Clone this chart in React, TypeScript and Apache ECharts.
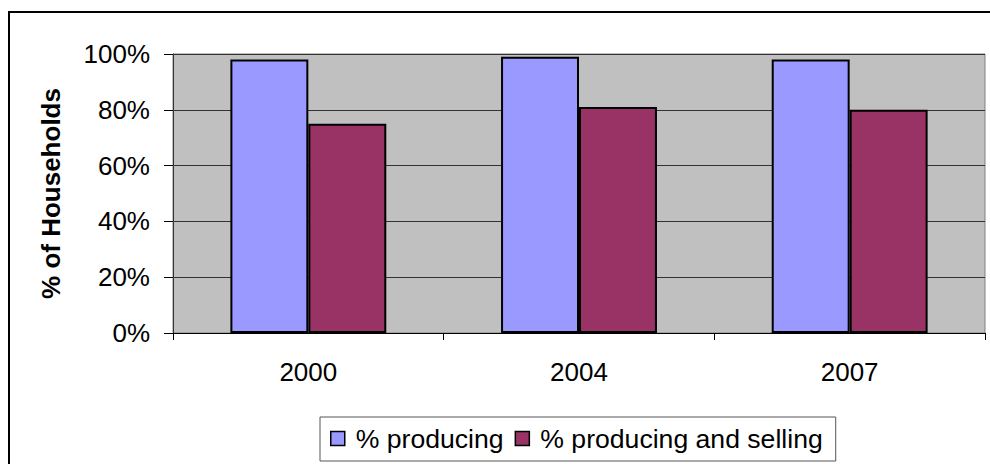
import React, { useEffect, useRef } from "react";
import * as echarts from "echarts";

const categories = ["2000", "2004", "2007"];
const producing = [0.98, 0.99, 0.98];
const producingSelling = [0.75, 0.81, 0.8];
const seriesNames = ["% producing", "% producing and selling"];

const FONT = "'Liberation Sans', Arial, sans-serif";

export default function App() {
  const ref = useRef<HTMLDivElement>(null);
  useEffect(() => {
    if (!ref.current) return;
    const chart = echarts.init(ref.current, null, { renderer: "svg" });
    chart.setOption({
      animation: false,
      backgroundColor: "#ffffff",
      textStyle: { fontFamily: FONT, color: "#000" },
      graphic: [
        {
          type: "rect",
          shape: { x: 9, y: 12, width: 1000, height: 480 },
          style: { fill: "none", stroke: "#000", lineWidth: 2 },
          silent: true,
        },
      ],
      grid: {
        left: 173,
        top: 54,
        width: 812,
        height: 279,
        show: true,
        backgroundColor: "#C0C0C0",
        borderColor: "#808080",
        borderWidth: 1,
      },
      legend: {
        data: seriesNames,
        left: 320,
        top: 417,
        orient: "horizontal",
        icon: "rect",
        itemWidth: 14,
        itemHeight: 14,
        itemGap: 11,
        padding: [8, 13, 9, 10],
        borderColor: "#555",
        borderWidth: 1,
        itemStyle: { borderColor: "#000", borderWidth: 1.5 },
        textStyle: { fontSize: 26.6, fontFamily: FONT, color: "#000", padding: [0, 0, 0, 6] },
      },
      xAxis: {
        type: "category",
        data: categories,
        axisLine: { show: true, lineStyle: { color: "#000", width: 1 } },
        axisTick: { show: true, length: 7, lineStyle: { color: "#000" } },
        axisLabel: { fontSize: 26, fontFamily: FONT, color: "#000", margin: 26 },
        splitLine: { show: false },
      },
      yAxis: {
        type: "value",
        min: 0,
        max: 1,
        interval: 0.2,
        name: "% of Households",
        nameLocation: "middle",
        nameRotate: 90,
        nameGap: 109,
        nameTextStyle: { fontSize: 26, fontWeight: "bold", fontFamily: FONT, color: "#000" },
        axisLine: { show: true, lineStyle: { color: "#333", width: 1 } },
        axisTick: { show: true, length: 9, lineStyle: { color: "#000" } },
        axisLabel: {
          fontSize: 26,
          fontFamily: FONT,
          color: "#000",
          margin: 23,
          formatter: (v: number) => Math.round(v * 100) + "%",
        },
        splitLine: { show: true, lineStyle: { color: "#333", width: 1 } },
      },
      series: [
        {
          name: seriesNames[0],
          type: "bar",
          data: producing,
          barWidth: "28.8%",
          barGap: "0%",
          itemStyle: { color: "#9999FF", borderColor: "#000", borderWidth: 2 },
        },
        {
          name: seriesNames[1],
          type: "bar",
          data: producingSelling,
          barWidth: "28.8%",
          barGap: "0%",
          itemStyle: { color: "#993366", borderColor: "#000", borderWidth: 2 },
        },
      ],
    });
    return () => chart.dispose();
  }, []);
  return (
    <div
      ref={ref}
      style={{ position: "absolute", left: 0, top: 0, width: 990, height: 464 }}
    />
  );
}
